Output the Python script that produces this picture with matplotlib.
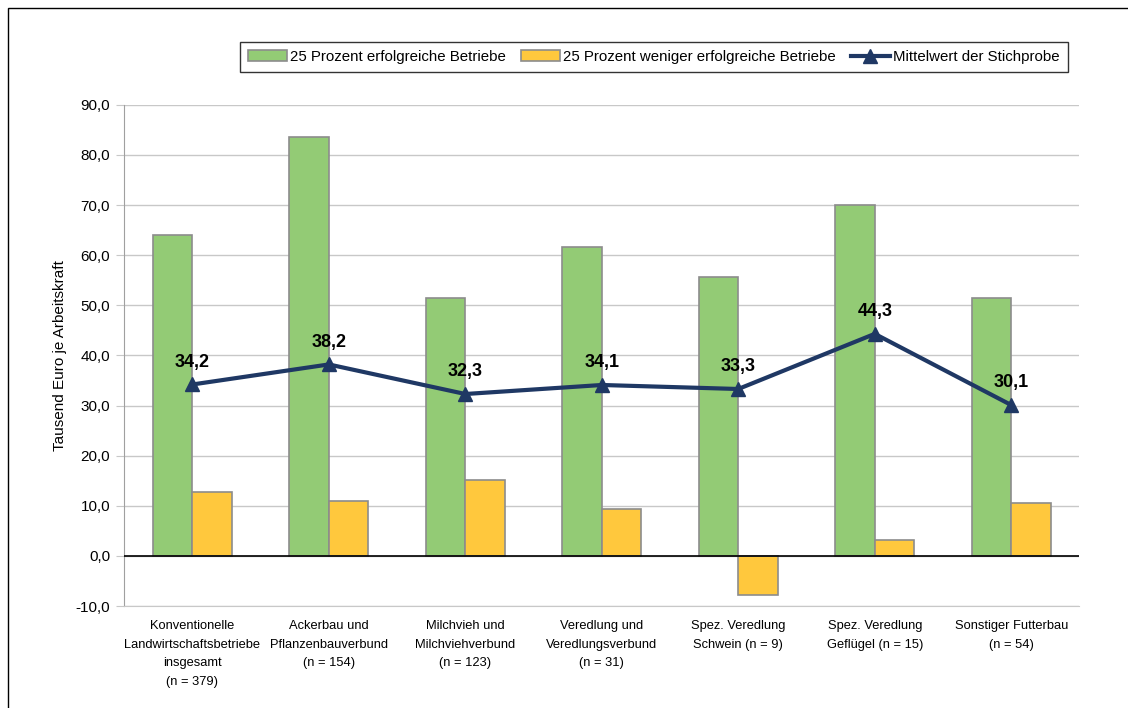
import numpy as np
import matplotlib
matplotlib.use("Agg")
import matplotlib.pyplot as plt
from matplotlib.patches import Rectangle
from matplotlib.ticker import FuncFormatter

plt.rcParams['font.family'] = ['Liberation Sans Narrow', 'Liberation Sans', 'DejaVu Sans']

categories = [
    "Konventionelle\nLandwirtschaftsbetriebe\ninsgesamt\n(n = 379)",
    "Ackerbau und\nPflanzenbauverbund\n(n = 154)",
    "Milchvieh und\nMilchviehverbund\n(n = 123)",
    "Veredlung und\nVeredlungsverbund\n(n = 31)",
    "Spez. Veredlung\nSchwein (n = 9)",
    "Spez. Veredlung\nGeflügel (n = 15)",
    "Sonstiger Futterbau\n(n = 54)",
]
top25 = [64.1, 83.6, 51.5, 61.6, 55.6, 70.0, 51.5]
low25 = [12.8, 11.0, 15.2, 9.4, -7.7, 3.1, 10.6]
mean = [34.2, 38.2, 32.3, 34.1, 33.3, 44.3, 30.1]

fig = plt.figure(figsize=(11.28, 7.08), dpi=100)
ax = fig.add_axes([0.110, 0.144, 0.847, 0.708])

# outer frame
fig.patches.append(Rectangle((8 / 1128, -0.01), 1.02, 1 - 8 / 708 + 0.01,
                             transform=fig.transFigure, fill=False,
                             edgecolor='black', linewidth=1.0))

x = np.arange(len(categories))
w = 0.29
b1 = ax.bar(x - w / 2, top25, w, color='#93CB75', edgecolor='#8C8C8C', linewidth=1.2,
            label='25 Prozent erfolgreiche Betriebe', zorder=2)
b2 = ax.bar(x + w / 2, low25, w, color='#FFC83D', edgecolor='#8C8C8C', linewidth=1.2,
            label='25 Prozent weniger erfolgreiche Betriebe', zorder=2)
ln, = ax.plot(x, mean, color='#1F3864', linewidth=3, marker='^', markersize=10,
              label='Mittelwert der Stichprobe', zorder=4)

for xi, v in zip(x, mean):
    ax.annotate(f"{v:.1f}".replace('.', ','), (xi, v), xytext=(0, 10),
                textcoords='offset points', ha='center', va='bottom',
                fontsize=13, fontweight='bold', zorder=5)

ax.set_xlim(-0.5, len(categories) - 0.5)
ax.set_ylim(-10, 90)
ax.set_yticks(np.arange(-10, 91, 10))
ax.yaxis.set_major_formatter(FuncFormatter(lambda v, p: f"{v:.1f}".replace('.', ',')))
ax.grid(axis='y', color='#C8C8C8', linewidth=1, zorder=0)
ax.axhline(0, color='black', linewidth=1.2, zorder=3)
ax.set_axisbelow(True)

ax.set_xticks(x)
ax.set_xticklabels(categories, fontsize=9.3, linespacing=1.75)
ax.tick_params(axis='x', length=0, pad=10)
ax.tick_params(axis='y', length=6, color='#C8C8C8', labelsize=11, pad=4)

for s in ['top', 'right']:
    ax.spines[s].set_visible(False)
ax.spines['left'].set_color('#A0A0A0')
ax.spines['bottom'].set_color('#C8C8C8')

ax.set_ylabel('Tausend Euro je Arbeitskraft', fontsize=11, labelpad=6)

leg = ax.legend(handles=[b1, b2, ln], loc='upper right', bbox_to_anchor=(0.9875, 1.126),
                borderaxespad=0, ncol=3, fontsize=10.8, frameon=True, fancybox=False,
                edgecolor='black', handlelength=2.6, handletextpad=0.2,
                columnspacing=1.0, borderpad=0.55)
leg.get_frame().set_linewidth(1.0)

fig.savefig('out.png', dpi=100)
